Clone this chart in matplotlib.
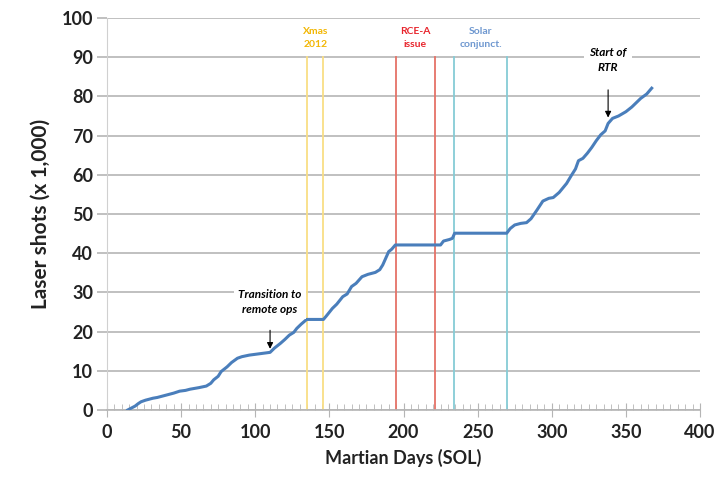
import matplotlib
matplotlib.use("Agg")
import matplotlib.pyplot as plt
from matplotlib.ticker import MultipleLocator

plt.rcParams['font.family'] = ['Lato', 'DejaVu Sans']

# cumulative laser shots (x 1,000)
sol = [14, 17, 19, 21, 23, 26, 28, 31, 34, 37, 40, 45, 49, 53, 56, 62, 67, 70, 72, 75, 77, 79, 81,
       84, 88, 91, 96, 100, 104, 110, 113, 117, 120, 123, 126, 128, 131, 134.7,
       146, 148, 152, 155, 159, 162, 165, 168, 172, 176, 181, 184, 186, 190, 192, 194.5,
       225, 227, 231, 233, 234.5, 269.6, 272, 275, 279, 283, 286, 290, 294, 298, 301,
       305, 310, 313, 316, 318, 321, 324, 327, 330, 333, 336, 338, 341, 345, 350, 354, 357, 360, 364, 367.4]
shots = [0, 0.6, 1.0, 1.6, 2.1, 2.5, 2.7, 3.0, 3.2, 3.5, 3.8, 4.3, 4.8, 5.0, 5.3, 5.7, 6.1, 6.8, 7.7, 8.6, 9.8, 10.4, 11.0,
         12.1, 13.2, 13.6, 14.0, 14.2, 14.4, 14.7, 15.8, 17.0, 18.0, 19.1, 19.8, 20.8, 21.9, 23.1,
         23.1, 24.0, 25.9, 27.0, 28.9, 29.6, 31.5, 32.3, 34.0, 34.6, 35.1, 35.8, 37.0, 40.4, 41.0, 42.1,
         42.1, 43.1, 43.5, 43.8, 45.1, 45.1, 46.3, 47.2, 47.6, 47.8, 48.8, 51.0, 53.3, 54.0, 54.2,
         55.5, 57.8, 59.7, 61.5, 63.6, 64.2, 65.5, 67.0, 68.7, 70.2, 71.2, 73.1, 74.4, 75.0, 76.1, 77.3, 78.4, 79.5, 80.6, 82.1]

# event markers (sol start, sol end), label, line colour, text colour
event_bounds = [(135, 146), (195, 221), (234, 270)]
event_labels = ["Xmas\n2012", "RCE-A\nissue", "Solar\nconjunct."]
event_line_colors = ["#F9DE85", "#E57267", "#86CCD6"]
event_text_colors = ["#F2B705", "#E8262E", "#6F98D0"]

fig = plt.figure(figsize=(7.16, 4.78), dpi=100)
ax = fig.add_axes([0.1494, 0.1423, 0.8283, 0.82])

ax.set_xlim(0, 400)
ax.set_ylim(0, 100)
ax.xaxis.set_major_locator(MultipleLocator(50))
ax.xaxis.set_minor_locator(MultipleLocator(5))
ax.yaxis.set_major_locator(MultipleLocator(10))

ax.grid(axis='y', color='#b5b5b5', lw=1.2, zorder=0)
for sp in ['top', 'right']:
    ax.spines[sp].set_visible(False)
ax.spines['left'].set_color('#d0d0d0')
ax.spines['bottom'].set_color('#b5b5b5')
ax.spines['bottom'].set_linewidth(1.2)
ax.tick_params(axis='y', length=7, color='#b5b5b5', width=1.2, labelsize=13, pad=3)
ax.tick_params(axis='x', which='major', direction='inout', length=10, color='#b5b5b5', labelsize=13, pad=5)
ax.tick_params(axis='x', which='minor', direction='in', length=4, color='#b5b5b5')
for lab in ax.get_xticklabels() + ax.get_yticklabels():
    lab.set_fontweight('bold')
    lab.set_color('#222222')

for (a, b), txt, lc, tc in zip(event_bounds, event_labels, event_line_colors, event_text_colors):
    for xv in (a, b):
        ax.plot([xv, xv], [0, 90], color=lc, lw=1.3, zorder=2)
    ax.text((a + b) / 2, 95, txt, ha='center', va='center', fontsize=7.5, fontweight='bold',
            color=tc, linespacing=1.6, zorder=4)

ax.plot(sol, shots, color='#4A7EBB', lw=2.2, zorder=3, solid_joinstyle='round')

ax.annotate("Transition to\nremote ops", xy=(110, 15.6), xytext=(110, 27.6),
            ha='center', va='center', fontsize=8.5, fontweight='bold', style='italic',
            linespacing=1.5, bbox=dict(facecolor='white', edgecolor='none', pad=3),
            arrowprops=dict(arrowstyle='-|>', color='black', lw=0.8, mutation_scale=9,
                            shrinkA=8, shrinkB=0), zorder=5)
ax.annotate("Start of\nRTR", xy=(338, 74.6), xytext=(338, 89.3),
            ha='center', va='center', fontsize=8.5, fontweight='bold', style='italic',
            linespacing=1.5, bbox=dict(facecolor='white', edgecolor='none', pad=4),
            arrowprops=dict(arrowstyle='-|>', color='black', lw=0.8, mutation_scale=9,
                            shrinkA=8, shrinkB=0), zorder=5)

ax.set_xlabel("Martian Days (SOL)", fontsize=13, fontweight='bold', color='#222222', labelpad=6)
ax.set_ylabel("Laser shots (x 1,000)", fontsize=15, fontweight='bold', color='#222222', labelpad=8)

fig.savefig("out.png", dpi=100)
